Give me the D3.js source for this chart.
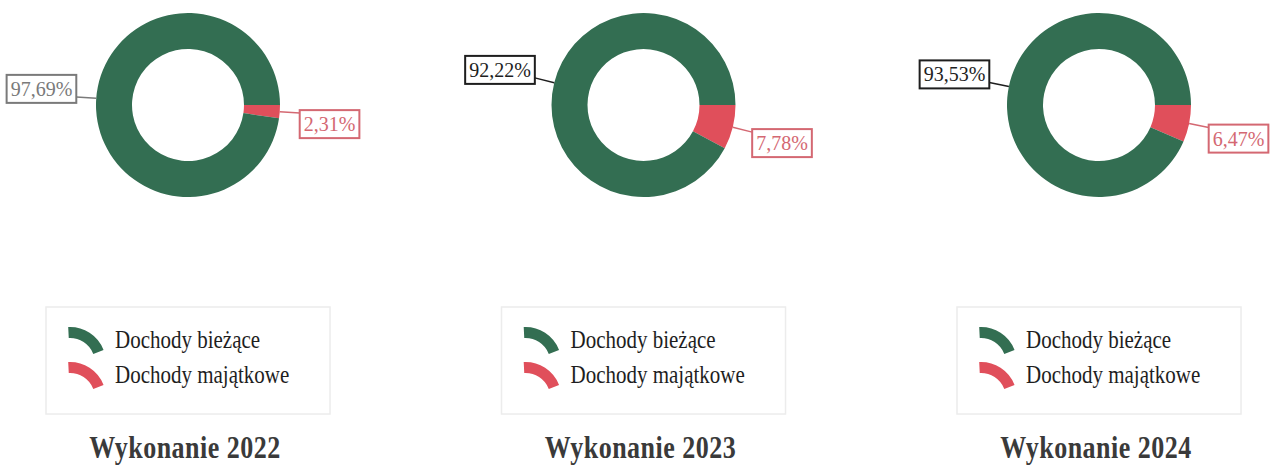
<!DOCTYPE html>
<html><head><meta charset="utf-8">
<script src="https://cdn.jsdelivr.net/npm/d3@7"></script>
<style>
html,body{margin:0;padding:0;background:#fff;}
svg{display:block;}
text{font-family:"Liberation Serif","Times New Roman",serif;}
</style></head>
<body>
<svg id="c" width="1270" height="472"></svg>
<script>
const years = ["2022", "2023", "2024"];
const categories = ["Dochody majątkowe", "Dochody bieżące"];
const majatkowe = [2.31, 7.78, 6.47];
const biezace = [97.69, 92.22, 93.53];
const titles = ["Wykonanie 2022", "Wykonanie 2023", "Wykonanie 2024"];
const legendOrder = ["Dochody bieżące", "Dochody majątkowe"];

const colors = {"Dochody bieżące": "#336e52", "Dochody majątkowe": "#e04f5b"};
const labelColors = {"Dochody majątkowe": ["#d46872", "#d46872", "#d46872"],
                     "Dochody bieżące": ["#7a7a7a", "#1e1e1e", "#1e1e1e"]};

const svg = d3.select("#c");
const x = d3.scalePoint().domain(years).range([188, 1099]);
const cy = 105, R = 92, r = 56;
const fmt = v => d3.format(".2f")(v).replace(".", ",") + "%";

const pie = d3.pie().sort(null).value(d => d.value)
  .startAngle(Math.PI / 2).endAngle(Math.PI / 2 + 2 * Math.PI);
const arc = d3.arc().innerRadius(r).outerRadius(R);
const polar = (a, rad) => [Math.sin(a) * rad, -Math.cos(a) * rad];

years.forEach((yr, i) => {
  const cx = x(yr);
  const data = [
    {name: categories[0], value: majatkowe[i]},
    {name: categories[1], value: biezace[i]}
  ];
  const g = svg.append("g").attr("transform", `translate(${cx},${cy})`);
  const arcs = pie(data);
  g.selectAll("path.slice").data(arcs).join("path")
    .attr("class", "slice")
    .attr("d", arc)
    .attr("fill", d => colors[d.data.name]);

  // labels with leader lines
  arcs.forEach(a => {
    const mid = (a.startAngle + a.endAngle) / 2;
    const p0 = polar(mid, R);
    const p1 = polar(mid, R + 20);
    const col = labelColors[a.data.name][i];
    g.append("line").attr("x1", p0[0]).attr("y1", p0[1])
      .attr("x2", p1[0]).attr("y2", p1[1])
      .attr("stroke", col).attr("stroke-width", 1.5);
    const isRight = Math.sin(mid) > 0;
    const t = g.append("text").text(fmt(a.data.value))
      .attr("font-size", 20).attr("fill", col);
    const bb = t.node().getBBox();
    const w = bb.width + 8, h = 28;
    let bx, by;
    if (isRight) { bx = p1[0]; by = p1[1] - 3; }
    else { bx = p1[0] - w; by = p1[1] + 6 - h; }
    g.insert("rect", "text:last-of-type")
      .attr("x", bx).attr("y", by).attr("width", w).attr("height", h)
      .attr("fill", "#fff").attr("stroke", col).attr("stroke-width", 2);
    t.attr("x", bx + 4).attr("y", by + 21);
    t.raise();
  });

  // legend
  const lg = svg.append("g").attr("transform", `translate(${cx},0)`);
  lg.append("rect").attr("x", -142).attr("y", 307).attr("width", 284).attr("height", 107)
    .attr("fill", "#fff").attr("stroke", "#ececec").attr("stroke-width", 1.5);
  const iconArc = d3.arc().innerRadius(25).outerRadius(36).startAngle(-0.05).endAngle(1.2);
  legendOrder.forEach((name, k) => {
    const yy = 327 + k * 35;
    lg.append("path").attr("d", iconArc())
      .attr("transform", `translate(${-118},${yy + 36})`)
      .attr("fill", colors[name]);
    lg.append("text").text(name)
      .attr("font-size", 21).attr("fill", "#1e1e1e")
      .attr("transform", `translate(-73,${yy + 21}) scale(1,1.2)`);
  });
  lg.append("text").text(titles[i])
    .attr("text-anchor", "middle")
    .attr("font-size", 26).attr("font-weight", "bold").attr("fill", "#3a3a3a")
    .attr("letter-spacing", 0.5)
    .attr("transform", `translate(-3,458) scale(1,1.25)`);
});
</script>
</body></html>
